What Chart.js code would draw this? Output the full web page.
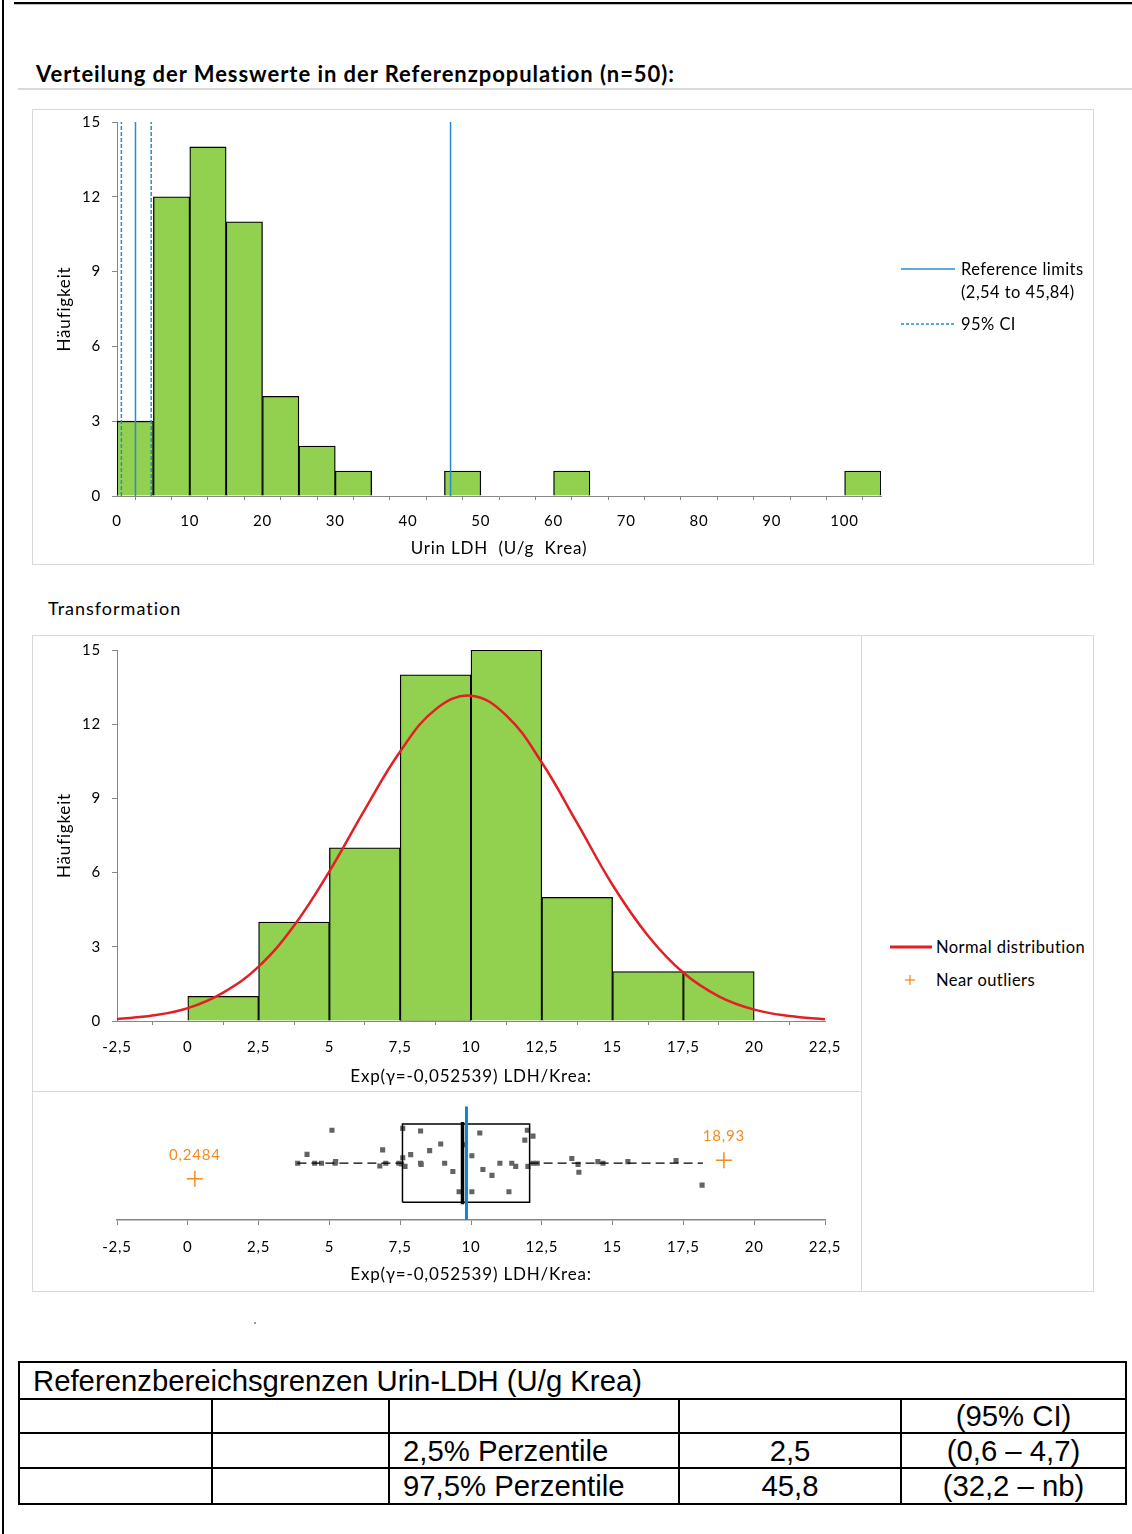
<!DOCTYPE html>
<html>
<head>
<meta charset="utf-8">
<title>Urin-LDH Referenzbereich</title>
<script src="https://cdn.jsdelivr.net/npm/chart.js@4.4.1/dist/chart.umd.min.js"></script>
<style>
  html, body { margin: 0; padding: 0; background: #fff; }
  body { position: relative; width: 1132px; height: 1534px; overflow: hidden; font-family: Lato, "Noto Sans", sans-serif; color: #000; }
  .abs { position: absolute; }
  .rule { position: absolute; }
  .panel { position: absolute; border: 1px solid #d9d9d9; box-sizing: border-box; }
  .legtxt { position: absolute; font-size: 16.5px; letter-spacing: 0.45px; line-height: 22px; white-space: nowrap; color: #000; }
  canvas { position: absolute; display: block; }
  table.res { position: absolute; left: 18px; top: 1361px; width: 1107px; border-collapse: collapse; table-layout: fixed;
              font-family: "Liberation Sans", Arial, sans-serif; font-size: 29.3px; color: #000; }
  table.res td { border: 2px solid #000; padding: 0 0 0 13px; white-space: nowrap; line-height: 30px; }
  table.res td.c { text-align: center; padding: 0; }
</style>
</head>
<body>

<!-- page frame -->
<div class="rule" style="left:2px;top:0;width:2px;height:1534px;background:#000"></div>
<div class="rule" style="left:14px;top:2px;width:1118px;height:2px;background:#000"></div>
<div class="rule" style="left:14px;top:4px;width:1118px;height:1px;background:#bdbdbd"></div>

<div class="abs" style="left:36px;top:60px;font-size:22px;letter-spacing:0.95px;font-weight:bold;line-height:28px;white-space:nowrap">Verteilung der Messwerte in der Referenzpopulation (n=50):</div>
<div class="rule" style="left:18px;top:88px;width:1114px;height:2px;background:#d9d9d9"></div>

<!-- panel 1: raw values -->
<div class="panel" style="left:32px;top:109px;width:1062px;height:456px"></div>
<canvas id="histRaw" width="1060" height="462" style="left:33px;top:102px;width:1060px;height:462px"></canvas>

<svg class="abs" style="left:900px;top:260px" width="60" height="80">
  <line x1="1" y1="9" x2="55" y2="9" stroke="#2a8bd2" stroke-width="1.5"/>
  <line x1="1" y1="64" x2="55" y2="64" stroke="#2a8bd2" stroke-width="1.5" stroke-dasharray="3,2"/>
</svg>
<div class="legtxt" style="left:961px;top:258px">Reference limits</div>
<div class="legtxt" style="left:961px;top:281px">(2,54 to 45,84)</div>
<div class="legtxt" style="left:961px;top:313px">95% CI</div>

<div class="abs" style="left:48px;top:597px;font-size:18px;letter-spacing:1px;line-height:22px;white-space:nowrap">Transformation</div>

<!-- panel 2: transformed values -->
<div class="panel" style="left:32px;top:635px;width:1062px;height:657px"></div>
<div class="rule" style="left:861px;top:635px;width:1px;height:657px;background:#d9d9d9"></div>
<div class="rule" style="left:32px;top:1091px;width:829px;height:1px;background:#d9d9d9"></div>
<canvas id="histTrans" width="828" height="461" style="left:33px;top:630px;width:828px;height:461px"></canvas>
<canvas id="boxTrans" width="828" height="198" style="left:33px;top:1092px;width:828px;height:198px"></canvas>

<svg class="abs" style="left:888px;top:938px" width="50" height="55">
  <line x1="2" y1="9" x2="44" y2="9" stroke="#e31e24" stroke-width="3"/>
  <line x1="17" y1="42" x2="27" y2="42" stroke="#f58a1f" stroke-width="1.3"/>
  <line x1="22" y1="37" x2="22" y2="47" stroke="#f58a1f" stroke-width="1.3"/>
</svg>
<div class="legtxt" style="left:936px;top:936px">Normal distribution</div>
<div class="legtxt" style="left:936px;top:969px">Near outliers</div>

<div class="rule" style="left:254px;top:1322px;width:2px;height:2px;background:#9a9a9a"></div>

<!-- result table -->
<table class="res">
  <colgroup><col style="width:193px"><col style="width:177px"><col style="width:290px"><col style="width:222px"><col style="width:225px"></colgroup>
  <tr style="height:37px"><td colspan="5">Referenzbereichsgrenzen Urin-LDH (U/g Krea)</td></tr>
  <tr style="height:34px"><td></td><td></td><td></td><td></td><td class="c">(95% CI)</td></tr>
  <tr style="height:35px"><td></td><td></td><td>2,5% Perzentile</td><td class="c">2,5</td><td class="c">(0,6 – 4,7)</td></tr>
  <tr style="height:36px"><td></td><td></td><td>97,5% Perzentile</td><td class="c">45,8</td><td class="c">(32,2 – nb)</td></tr>
</table>

<script>
// ---- raw Urin-LDH histogram (U/g Krea), bin width 5 ----
const ldhBinStart = [0, 5, 10, 15, 20, 25, 30, 35, 40, 45, 50, 55, 60, 65, 70, 75, 80, 85, 90, 95, 100];
const ldhCounts   = [3, 12, 14, 11, 4, 2, 1, 0, 0, 1, 0, 0, 1, 0, 0, 0, 0, 0, 0, 0, 1];
const ldhBinWidth = 5;
const refLimits   = [2.54, 45.84];
const refLimitCI  = [0.6, 4.7];

// ---- transformed values, bin width 2.5 ----
const transBinStart = [0, 2.5, 5, 7.5, 10, 12.5, 15, 17.5];
const transCounts   = [1, 4, 7, 14, 15, 5, 2, 2];
const transBinWidth = 2.5;

// fitted normal curve (expected counts per bin)
const normalX = [-2.5, -1.25, 0, 1.25, 2.5, 3.75, 5, 6.25, 7.5, 8.75, 10, 11.25, 12.5, 13.75, 15, 16.25, 17.5, 18.75, 20, 21.25, 22.5];
const normalY = [0.08, 0.22, 0.52, 1.15, 2.2, 3.85, 6.05, 8.55, 10.9, 12.6, 13.15, 12.35, 10.45, 8.0, 5.5, 3.45, 1.95, 1.0, 0.46, 0.2, 0.07];

// ---- box plot of transformed values ----
const obsValues = [3.88, 4.21, 4.48, 4.72, 5.09, 5.22, 5.2, 6.78, 6.88, 6.99, 7.45,
                   7.59, 7.59, 7.55, 7.67, 7.87, 8.22, 8.22, 8.24, 8.54, 8.93, 9.07, 9.36, 9.58, 9.75,
                   10.03, 10.03, 10.31, 10.42, 10.74, 11.02, 11.34, 11.44, 11.58, 11.90, 11.99, 12.01, 12.19, 12.19, 12.34,
                   13.56, 13.78, 13.81, 14.48, 14.66, 15.54, 17.24, 18.16];
const obsJitter = [0, 0.225, 0, 0, 0.84, 0.04, 0, -0.07, 0.34, 0, 0,
                   0.89, 0.14, -0.02, -0.08, 0.22, 0.82, 0, -0.03, 0.32, 0.49, 0, -0.21, -0.73, 0.47,
                   0.19, -0.73, 0.77, -0.16, -0.31, 0, -0.73, 0, -0.08, 0.59, 0.84, -0.08, 0.69, 0, 0,
                   0.12, -0.03, -0.23, 0.04, 0, 0.04, 0.07, -0.56];
const boxQuartiles  = [7.58, 9.70, 12.07];   // Q1, median, Q3
const boxWhiskers   = [3.87, 18.19];
const meanValue     = 9.84;
const nearOutliers  = [0.2484, 18.93];
const outlierJitter = [-0.4, 0.075];

const transTicks = [-2.5, 0, 2.5, 5, 7.5, 10, 12.5, 15, 17.5, 20, 22.5];

const GREEN = '#92d050', AXIS = '#868686', BLUE = '#2a8bd2', RED = '#e31e24', ORANGE = '#f58a1f';
const comma = v => String(v).replace('.', ',');

function histData(starts, counts, width) {
  const out = [];
  starts.forEach((s, i) => { if (counts[i] > 0) out.push({ x: s + width / 2, y: counts[i] }); });
  return out;
}
function vline(x, y0, y1) { return [{ x: x, y: y0 }, { x: x, y: y1 }]; }

// slightly wider text tracking for all chart text
const tracking = {
  id: 'tracking',
  beforeUpdate(chart) { chart.ctx.letterSpacing = '0.8px'; },
  beforeDraw(chart) { chart.ctx.letterSpacing = '0.8px'; }
};

function yAxis(titleText) {
  return {
    min: 0, max: 15,
    ticks: { stepSize: 3, padding: 11, color: '#000', font: { size: 15 } },
    grid: { drawOnChartArea: false, tickLength: 5, color: AXIS },
    border: { color: AXIS, width: 1 },
    title: { display: true, text: titleText, color: '#000', font: { size: 17 }, padding: { top: 21, bottom: 0 } },
    afterFit: s => { s.width = 84; }
  };
}

function draw() {
  Chart.defaults.font.family = 'Lato, "Noto Sans", sans-serif';
  Chart.defaults.color = '#000';

  // raw values histogram with reference limits
  new Chart(document.getElementById('histRaw'), {
    type: 'bar',
    plugins: [tracking],
    data: {
      datasets: [
        { type: 'line', label: 'Reference limits', data: vline(refLimits[0], 0, 15), borderColor: BLUE, borderWidth: 1.5, pointRadius: 0, order: 1 },
        { type: 'line', label: 'Reference limits', data: vline(refLimits[1], 0, 15), borderColor: BLUE, borderWidth: 1.5, pointRadius: 0, order: 1 },
        { type: 'line', label: '95% CI', data: vline(refLimitCI[0], 0, 15), borderColor: BLUE, borderWidth: 1.5, borderDash: [4, 2], pointRadius: 0, order: 1 },
        { type: 'line', label: '95% CI', data: vline(refLimitCI[1], 0, 15), borderColor: BLUE, borderWidth: 1.5, borderDash: [4, 2], pointRadius: 0, order: 1 },
        { label: 'Häufigkeit', data: histData(ldhBinStart, ldhCounts, ldhBinWidth), backgroundColor: GREEN,
          borderColor: '#000', borderWidth: 1.3, barPercentage: 1, categoryPercentage: 1, order: 2 }
      ]
    },
    options: {
      responsive: false, animation: false,
      layout: { padding: { left: 0, top: 4, right: 212, bottom: 0 } },
      plugins: { legend: { display: false }, tooltip: { enabled: false } },
      scales: {
        x: {
          type: 'linear', min: 0, max: 105, offset: false,
          ticks: { stepSize: 5, padding: 12, color: '#000', font: { size: 15 }, maxRotation: 0, autoSkip: false,
                   callback: v => (v % 10 === 0 && v <= 100) ? comma(v) : '' },
          grid: { drawOnChartArea: false, tickLength: 4, color: AXIS },
          border: { color: AXIS, width: 1 },
          title: { display: true, text: 'Urin LDH  (U/g  Krea)', color: '#000', font: { size: 17 }, padding: { top: 0, bottom: 5 } },
          afterFit: s => { s.height = 68; }
        },
        y: yAxis('Häufigkeit')
      }
    }
  });

  // transformed values histogram with normal curve
  new Chart(document.getElementById('histTrans'), {
    type: 'bar',
    plugins: [tracking],
    data: {
      datasets: [
        { type: 'line', label: 'Normal distribution', data: normalX.map((x, i) => ({ x: x, y: normalY[i] })),
          borderColor: RED, borderWidth: 2.5, pointRadius: 0, tension: 0.4, order: 1 },
        { label: 'Häufigkeit', data: histData(transBinStart, transCounts, transBinWidth), backgroundColor: GREEN,
          borderColor: '#000', borderWidth: 1.3, barPercentage: 1, categoryPercentage: 1, order: 2 }
      ]
    },
    options: {
      responsive: false, animation: false,
      layout: { padding: { left: 0, top: 8, right: 36, bottom: 0 } },
      plugins: { legend: { display: false }, tooltip: { enabled: false } },
      scales: {
        x: {
          type: 'linear', min: -2.5, max: 22.5, offset: false,
          afterBuildTicks: s => { s.ticks = transTicks.map(v => ({ value: v })); },
          ticks: { padding: 13, color: '#000', font: { size: 15 }, maxRotation: 0, autoSkip: false, callback: v => comma(v) },
          grid: { drawOnChartArea: false, tickLength: 4, color: AXIS },
          border: { color: AXIS, width: 1 },
          title: { display: true, text: 'Exp(γ=-0,052539) LDH/Krea:', color: '#000', font: { size: 17 }, padding: { top: 0, bottom: 4 } },
          afterFit: s => { s.height = 70; }
        },
        y: yAxis('Häufigkeit')
      }
    }
  });

  // box plot with jittered observations
  const outlierLabels = {
    id: 'outlierLabels',
    afterDatasetsDraw(chart) {
      const idx = chart.data.datasets.findIndex(d => d.label === 'Near outliers');
      const meta = chart.getDatasetMeta(idx);
      const ctx = chart.ctx;
      ctx.save();
      ctx.fillStyle = ORANGE;
      ctx.font = '15px Lato, "Noto Sans", sans-serif';
      ctx.textAlign = 'center';
      ctx.textBaseline = 'middle';
      meta.data.forEach((pt, i) => ctx.fillText(comma(nearOutliers[i]), pt.x, pt.y - 24));
      ctx.restore();
    }
  };

  const [q1, med, q3] = boxQuartiles;
  new Chart(document.getElementById('boxTrans'), {
    type: 'scatter',
    plugins: [tracking, outlierLabels],
    data: {
      datasets: [
        { label: 'Mittelwert', data: vline(meanValue, 1.45, -1.45), showLine: true, borderColor: '#0a86d8', borderWidth: 3, pointRadius: 0, order: 1 },
        { label: 'Median', data: vline(med, -1.05, 1.05), showLine: true, borderColor: '#000', borderWidth: 3.5, pointRadius: 0, order: 2 },
        { label: 'Box', data: [{ x: q1, y: -1 }, { x: q3, y: -1 }, { x: q3, y: 1 }, { x: q1, y: 1 }, { x: q1, y: -1 }],
          showLine: true, borderColor: '#000', borderWidth: 1.5, pointRadius: 0, order: 3 },
        { label: 'Whisker', data: [{ x: boxWhiskers[0], y: 0 }, { x: q1, y: 0 }], showLine: true, borderColor: '#000',
          borderWidth: 1.2, borderDash: [9, 5], pointRadius: 0, order: 3 },
        { label: 'Whisker', data: [{ x: q3, y: 0 }, { x: boxWhiskers[1], y: 0 }], showLine: true, borderColor: '#000',
          borderWidth: 1.2, borderDash: [9, 5], pointRadius: 0, order: 3 },
        { label: 'Werte', data: obsValues.map((v, i) => ({ x: v, y: obsJitter[i] })), pointStyle: 'rect',
          pointRadius: 3.6, backgroundColor: '#636363', borderWidth: 0, order: 4 },
        { label: 'Near outliers', data: nearOutliers.map((v, i) => ({ x: v, y: outlierJitter[i] })), pointStyle: 'cross',
          pointRadius: 8, borderColor: ORANGE, borderWidth: 1.5, order: 0 }
      ]
    },
    options: {
      responsive: false, animation: false,
      layout: { padding: { left: 84, top: 8, right: 36, bottom: 0 } },
      plugins: { legend: { display: false }, tooltip: { enabled: false } },
      scales: {
        x: {
          type: 'linear', min: -2.5, max: 22.5,
          afterBuildTicks: s => { s.ticks = transTicks.map(v => ({ value: v })); },
          ticks: { padding: 13, color: '#000', font: { size: 15 }, maxRotation: 0, autoSkip: false, callback: v => comma(v) },
          grid: { drawOnChartArea: false, tickLength: 5, color: AXIS },
          border: { color: AXIS, width: 1.5 },
          title: { display: true, text: 'Exp(γ=-0,052539) LDH/Krea:', color: '#000', font: { size: 17 }, padding: { top: 0, bottom: 5 } },
          afterFit: s => { s.height = 70; }
        },
        y: { display: false, min: -1.45, max: 1.575 }
      }
    }
  });
}

Promise.all([
  document.fonts.load('16px Lato'),
  document.fonts.load('bold 22px Lato'),
  document.fonts.load('29px "Liberation Sans"')
]).catch(() => {}).then(draw);
</script>
</body>
</html>
